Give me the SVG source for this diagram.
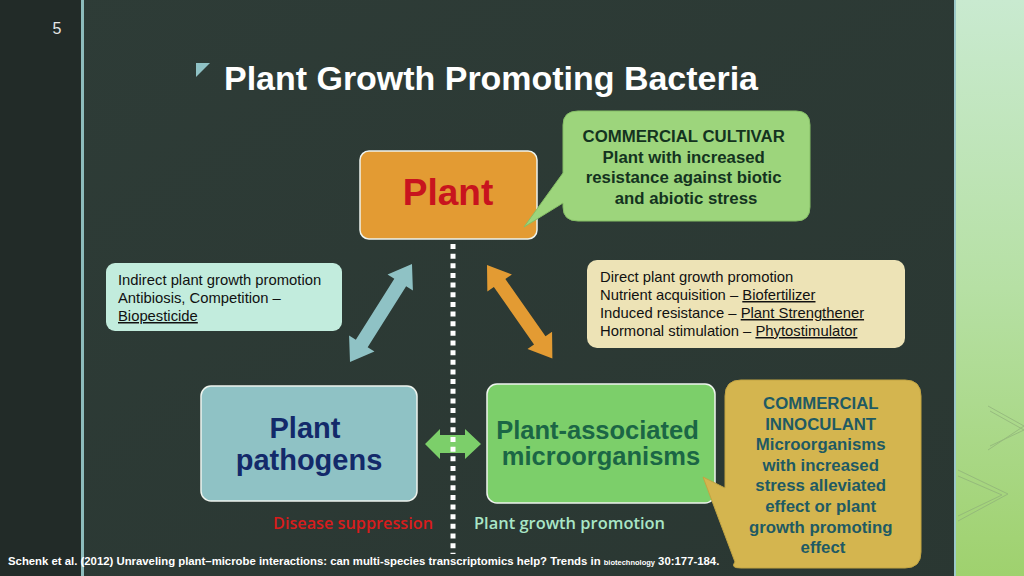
<svg xmlns="http://www.w3.org/2000/svg" width="1024" height="576" viewBox="0 0 1024 576">
<defs>
<linearGradient id="side" x1="0" y1="0" x2="0" y2="1">
<stop offset="0" stop-color="#c9ead0"/>
<stop offset="0.5" stop-color="#b6e0a4"/>
<stop offset="1" stop-color="#9fd16e"/>
</linearGradient>
<linearGradient id="bg" x1="0" y1="0" x2="1" y2="1">
<stop offset="0" stop-color="#2e3c37"/>
<stop offset="1" stop-color="#2a3732"/>
</linearGradient>
</defs>
<style>
.sans{font-family:"Liberation Sans",Arial,sans-serif}
.b{font-weight:bold}
.box{stroke:#eef4ee;stroke-width:1.5}
.u{text-decoration:underline}
.small{font-size:14.8px;fill:#111}
</style>
<rect x="0" y="0" width="1024" height="576" fill="url(#bg)"/>
<rect x="0" y="0" width="81" height="576" fill="#222b28"/>
<rect x="81" y="0" width="3" height="576" fill="#8dbcbc"/>
<rect x="955" y="0" width="69" height="576" fill="url(#side)"/>
<rect x="954" y="0" width="2" height="576" fill="#9cc9c9"/>
<g fill="none" stroke="#8fb07a" stroke-width="1" opacity="0.7">
<polyline points="988,406 1024,426 988,450"/>
<polyline points="990,411 1024,430 990,446"/>
<polyline points="958,470 1008,494 958,521"/>
<polyline points="958,476 1002,495 958,516"/>
</g>
<text x="57" y="34" class="sans" font-size="16" fill="#e6e6e6" text-anchor="middle">5</text>
<polygon points="196,63 210,63 196,77" fill="#8fc2c5"/>
<text x="224" y="90" class="sans b" font-size="34" fill="#ffffff" textLength="534" lengthAdjust="spacingAndGlyphs">Plant Growth Promoting Bacteria</text>

<g id="connectors">
<polygon points="0,0 22,-15 22,-7 94,-7 94,-15 116,0 94,15 94,7 22,7 22,15" fill="#8fc2c5" transform="translate(350,362) rotate(-57.7)"/>
<polygon points="0,0 22,-15 22,-7 92,-7 92,-15 114,0 92,15 92,7 22,7 22,15" fill="#e39b33" transform="translate(487,265) rotate(55)"/>
<polygon points="425,444 440,429 440,435 465,435 465,429 481,444 465,459 465,453 440,453 440,459" fill="#7ccf6a"/>
<line x1="453" y1="244" x2="453" y2="554" stroke="#ffffff" stroke-width="5" stroke-dasharray="5 4.65"/>
</g>

<g id="plant">
<rect x="360" y="151" width="177" height="88" rx="9" fill="#e39b33" class="box"/>
<text x="448" y="205" class="sans b" font-size="37" fill="#c8141e" text-anchor="middle">Plant</text>
</g>

<g id="cultivar">
<path d="M578,111 H796 Q810,111 810,125 V207 Q810,221 796,221 H578 Q563,221 563,207 V203 L524,227 L563,173 V125 Q563,111 578,111 Z" fill="#9dd57c" stroke="#86bf66" stroke-width="1"/>
<text class="sans b" font-size="16.8" fill="#14331f" text-anchor="middle">
<tspan x="686" y="142">COMMERCIAL CULTIVAR</tspan>
<tspan x="686" y="163">Plant with increased</tspan>
<tspan x="686" y="183">resistance against biotic</tspan>
<tspan x="686" y="204">and abiotic stress</tspan>
</text>
</g>

<g id="indirect">
<rect x="106" y="263" width="236" height="68" rx="9" fill="#c2ecdd"/>
<text class="sans small">
<tspan x="118" y="285">Indirect plant growth promotion</tspan>
<tspan x="118" y="303">Antibiosis, Competition –</tspan>
<tspan x="118" y="321" class="u">Biopesticide</tspan>
</text>
</g>

<g id="direct">
<rect x="587" y="260" width="318" height="88" rx="10" fill="#ede3b6"/>
<text class="sans small">
<tspan x="600" y="282">Direct plant growth promotion</tspan>
<tspan x="600" y="300">Nutrient acquisition – <tspan class="u">Biofertilizer</tspan></tspan>
<tspan x="600" y="318">Induced resistance – <tspan class="u">Plant Strengthener</tspan></tspan>
<tspan x="600" y="336">Hormonal stimulation – <tspan class="u">Phytostimulator</tspan></tspan>
</text>
</g>

<g id="pathogens">
<rect x="201" y="386" width="216" height="115" rx="10" fill="#8fc2c5" class="box"/>
<text class="sans b" font-size="29" fill="#13296a" text-anchor="middle">
<tspan x="309" y="438">Plant</tspan>
<tspan x="309" y="470">pathogens</tspan>
</text>
</g>

<g id="microorganisms">
<rect x="487" y="384" width="228" height="119" rx="10" fill="#7ccf6a" class="box"/>
<text class="sans b" font-size="25.5" fill="#1b6645" text-anchor="middle">
<tspan x="601" y="439">Plant-associated</tspan>
<tspan x="601" y="465">microorganisms</tspan>
</text>
</g>

<g id="inoculant">
<path d="M741,380 H905 Q921,380 921,396 V552 Q921,568 905,568 H741 Q730,568 735,562 L703,477 L725,488 V396 Q725,380 741,380 Z" fill="#d4b54f" stroke="#c2a443" stroke-width="1"/>
<text class="sans b" font-size="16.8" fill="#1f5a63" text-anchor="middle">
<tspan x="823" y="409">COMMERCIAL</tspan>
<tspan x="823" y="430">INNOCULANT</tspan>
<tspan x="823" y="450">Microorganisms</tspan>
<tspan x="823" y="471">with increased</tspan>
<tspan x="823" y="491">stress alleviated</tspan>
<tspan x="823" y="512">effect or plant</tspan>
<tspan x="823" y="533">growth promoting</tspan>
<tspan x="823" y="553">effect</tspan>
</text>
</g>

<text x="273" y="529" font-family="'Open Sans',sans-serif" font-weight="600" font-size="16" fill="#d81c1c" textLength="160" lengthAdjust="spacingAndGlyphs">Disease suppression</text>
<text x="474" y="529" font-family="'Open Sans',sans-serif" font-weight="600" font-size="16" fill="#a9e6c6" textLength="191" lengthAdjust="spacingAndGlyphs">Plant growth promotion</text>

<text x="8" y="565" class="sans b" font-size="11.35" fill="#ffffff">Schenk et al. (2012) Unraveling plant–microbe interactions: can multi-species transcriptomics help? Trends in <tspan font-size="7.5">biotechnology</tspan> 30:177-184.</text>
</svg>
